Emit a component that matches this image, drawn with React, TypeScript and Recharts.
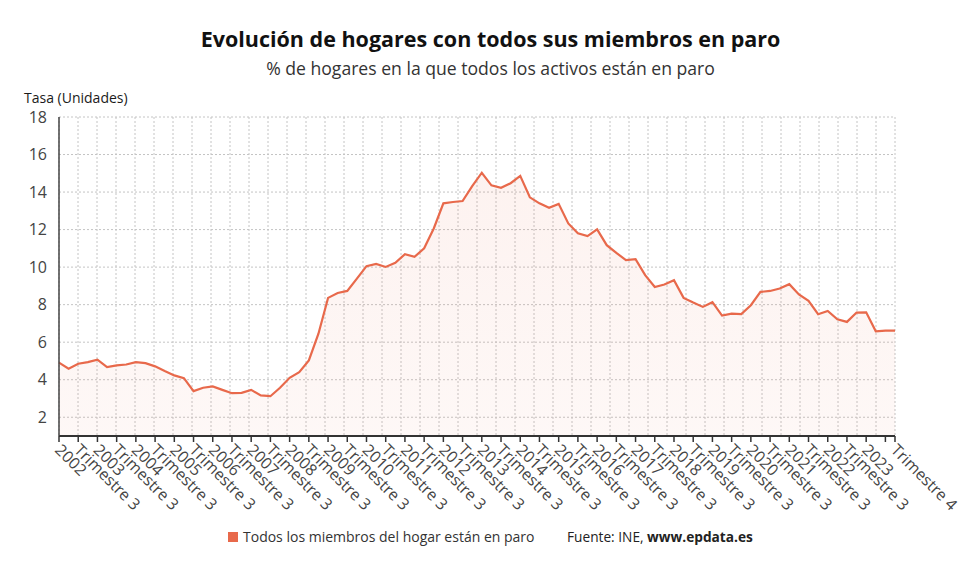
import React from "react";
import { AreaChart, Area, XAxis, YAxis, CartesianGrid } from "recharts";

const years = [
  "2002", "2003", "2004", "2005", "2006", "2007", "2008", "2009", "2010", "2011", "2012",
  "2013", "2014", "2015", "2016", "2017", "2018", "2019", "2020", "2021", "2022", "2023",
];
const quarterNames = ["Trimestre 1", "Trimestre 2", "Trimestre 3", "Trimestre 4"];

const rate = [
  4.91, 4.59, 4.85, 4.94, 5.07, 4.67, 4.76, 4.81, 4.94, 4.88, 4.71, 4.46, 4.23, 4.08,
  3.39, 3.57, 3.64, 3.46, 3.28, 3.3, 3.46, 3.16, 3.12, 3.57, 4.1, 4.4, 5.03, 6.45,
  8.36, 8.62, 8.73, 9.39, 10.05, 10.17, 10.01, 10.23, 10.69, 10.55, 11.0, 12.06, 13.4, 13.47,
  13.52, 14.32, 15.03, 14.36, 14.23, 14.47, 14.86, 13.72, 13.4, 13.16, 13.37, 12.33, 11.8, 11.65,
  12.01, 11.17, 10.76, 10.37, 10.42, 9.57, 8.94, 9.07, 9.3, 8.36, 8.11, 7.88, 8.13, 7.42,
  7.52, 7.5, 7.97, 8.68, 8.73, 8.86, 9.09, 8.54, 8.2, 7.49, 7.66, 7.22, 7.08, 7.58,
  7.59, 6.58, 6.62, 6.62,
];

const yTicks = [2, 4, 6, 8, 10, 12, 14, 16, 18];
const hiddenTickLabels = [86];

const categories = years.flatMap((y) => quarterNames.map((q) => ({ year: y, quarter: q })));
const data = rate.map((v, i) => ({ i, v }));
const xTicks = [
  ...data.filter((d) => d.i % 2 === 0).map((d) => d.i),
  data[data.length - 1].i,
];

const tickLabel = (i: number) => {
  const c = categories[i];
  if (!c) return "";
  return c.quarter === "Trimestre 1" ? c.year : c.quarter;
};

const FONT = "'Open Sans', 'Noto Sans', sans-serif";
const LINE = "#E8694B";

const XTick = (props: any) => {
  const { x, y, payload } = props;
  const i = payload.value;
  if (hiddenTickLabels.includes(i)) return <g />;
  const ax = x - 5;
  const ay = y + 9;
  return (
    <text
      x={ax}
      y={ay}
      transform={`rotate(45, ${ax}, ${ay})`}
      textAnchor="start"
      fontSize={16}
      fontFamily={FONT}
      fill="#444"
    >
      {tickLabel(i)}
    </text>
  );
};

const gridGenerator = (props: any) => {
  const { offset } = props;
  const n = 44;
  const out: number[] = [];
  for (let k = 0; k <= n; k++) out.push(offset.left + (k * offset.width) / n);
  return out;
};

export default function App() {
  return (
    <div
      style={{
        position: "absolute",
        left: 0,
        top: 0,
        width: 980,
        height: 575,
        background: "#fff",
        fontFamily: FONT,
      }}
    >
      <AreaChart
        width={980}
        height={575}
        data={data}
        margin={{ top: 117, right: 85, left: 19, bottom: 59 }}
      >
        <defs>
          <linearGradient id="fillGrad" x1="0" y1="0" x2="0" y2="1">
            <stop offset="0%" stopColor={LINE} stopOpacity={0.14} />
            <stop offset="100%" stopColor={LINE} stopOpacity={0.08} />
          </linearGradient>
        </defs>
        <CartesianGrid
          stroke="#c4c4c4"
          strokeDasharray="2 2"
          verticalCoordinatesGenerator={gridGenerator}
        />
        <XAxis
          dataKey="i"
          type="number"
          domain={[0, 87]}
          ticks={xTicks}
          interval={0}
          height={80}
          tick={<XTick />}
          tickSize={6}
          tickMargin={0}
          axisLine={{ stroke: "#333", strokeWidth: 2 }}
          tickLine={{ stroke: "#333", strokeWidth: 1.5 }}
        />
        <YAxis
          domain={[1, 18]}
          ticks={yTicks}
          interval={0}
          width={40}
          tickSize={0}
          tickMargin={12}
          tickLine={false}
          axisLine={{ stroke: "#444", strokeWidth: 1.5 }}
          tick={{ fontSize: 16, fill: "#444", fontFamily: FONT }}
        />
        <Area
          type="linear"
          dataKey="v"
          stroke={LINE}
          strokeWidth={2.2}
          fill="url(#fillGrad)"
          isAnimationActive={false}
          dot={false}
          activeDot={false}
        />
      </AreaChart>
      <svg
        width={980}
        height={575}
        style={{ position: "absolute", left: 0, top: 0, pointerEvents: "none" }}
      >
        <text x={490.5} y={46.5} textAnchor="middle" fontSize={21.5} fontWeight="bold" fill="#111" fontFamily={FONT}>
          Evolución de hogares con todos sus miembros en paro
        </text>
        <text x={490.5} y={75} textAnchor="middle" fontSize={17.6} fill="#333" fontFamily={FONT}>
          % de hogares en la que todos los activos están en paro
        </text>
        <text x={24} y={102.5} fontSize={14} fontWeight={500} fill="#1a1a1a" fontFamily={FONT}>
          Tasa (Unidades)
        </text>
        <rect x={228} y={532} width={10} height={10} fill={LINE} />
        <text x={243} y={541.5} fontSize={14} fill="#333" fontFamily={FONT}>
          Todos los miembros del hogar están en paro
        </text>
        <text x={567} y={541.5} fontSize={13.7} fill="#222" fontFamily={FONT}>
          Fuente: INE, <tspan fontWeight="bold">www.epdata.es</tspan>
        </text>
      </svg>
    </div>
  );
}
